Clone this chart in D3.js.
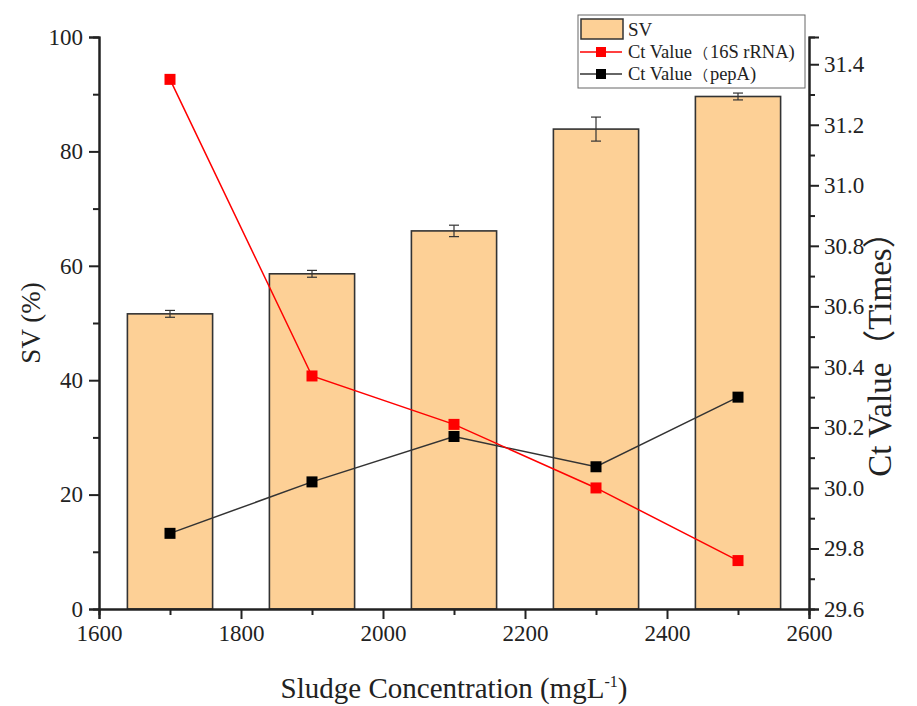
<!DOCTYPE html>
<html>
<head>
<meta charset="utf-8">
<script src="https://cdn.jsdelivr.net/npm/d3@7"></script>
<style>
  body { margin: 0; background: #fff; }
  text { font-family: "Liberation Serif", "Times New Roman", serif; fill: #222; }
  .cjk { font-family: "Noto Sans CJK SC", sans-serif; }
</style>
</head>
<body>
<svg width="917" height="706"></svg>
<script>
// data
let concentration = [1700, 1900, 2100, 2300, 2500];
let sv = [51.6, 58.6, 66.1, 83.9, 89.6];
let svErr = [0.6, 0.6, 1.0, 2.1, 0.6];
let ct16S = [31.35, 30.37, 30.21, 30.00, 29.76];
let ctPepA = [29.85, 30.02, 30.17, 30.07, 30.30];

let svgWidth = 917, svgHeight = 706;
let margin = {left: 99, right: 108, top: 37, bottom: 97};
let width = svgWidth - margin.left - margin.right,
    height = svgHeight - margin.top - margin.bottom;

let svg = d3.select('svg');
let g = svg.append('g')
    .attr('transform', 'translate(' + margin.left + ',' + margin.top + ')');

let x = d3.scaleLinear().domain([1600, 2600]).range([0, width]);
let yL = d3.scaleLinear().domain([0, 100]).range([height, 0]);
let yR = d3.scaleLinear().domain([29.6, 31.49]).range([height, 0]);

let barW = x(1760) - x(1640);
let axisColor = '#222';

// bars
g.selectAll('.bar')
    .data(concentration)
    .enter()
    .append('rect')
    .attr('x', (d) => x(d) - barW / 2)
    .attr('y', (d, i) => yL(sv[i]))
    .attr('width', barW)
    .attr('height', (d, i) => height - yL(sv[i]))
    .attr('fill', '#FDD096')
    .attr('stroke', '#333')
    .attr('stroke-width', 1.6);

// error bars
let err = g.selectAll('.err')
    .data(concentration)
    .enter()
    .append('g')
    .attr('stroke', '#333')
    .attr('stroke-width', 1.2);
err.append('line')
    .attr('x1', (d) => x(d)).attr('x2', (d) => x(d))
    .attr('y1', (d, i) => yL(sv[i] + svErr[i]))
    .attr('y2', (d, i) => yL(sv[i] - svErr[i]));
[1, -1].forEach((s) => {
    err.append('line')
        .attr('x1', (d) => x(d) - 5).attr('x2', (d) => x(d) + 5)
        .attr('y1', (d, i) => yL(sv[i] + s * svErr[i]))
        .attr('y2', (d, i) => yL(sv[i] + s * svErr[i]));
});

// lines
function drawSeries(vals, color, lineColor) {
    let line = d3.line().x((d, i) => x(concentration[i])).y((d) => yR(d));
    g.append('path')
        .datum(vals)
        .attr('d', line)
        .attr('fill', 'none')
        .attr('stroke', lineColor)
        .attr('stroke-width', 1.5);
    g.selectAll(null)
        .data(vals)
        .enter()
        .append('rect')
        .attr('x', (d, i) => x(concentration[i]) - 5.5)
        .attr('y', (d) => yR(d) - 5.5)
        .attr('width', 11)
        .attr('height', 11)
        .attr('fill', color);
}
drawSeries(ctPepA, '#000', '#333');
drawSeries(ct16S, '#ff0000', '#ff0000');

// axes
function styleAxis(sel) {
    sel.attr('font-family', 'Liberation Serif');
    sel.selectAll('path').attr('stroke', axisColor).attr('stroke-width', 2);
    sel.selectAll('line').attr('stroke', axisColor).attr('stroke-width', 2);
    sel.selectAll('text').attr('font-size', 23).attr('fill', '#222');
}

let xAxis = g.append('g')
    .attr('transform', 'translate(0,' + height + ')')
    .call(d3.axisBottom(x).tickValues(d3.range(1600, 2601, 200)).tickFormat(d3.format('d')).tickSizeOuter(0).tickSize(10).tickPadding(6));
g.append('g')
    .attr('transform', 'translate(0,' + height + ')')
    .call(d3.axisBottom(x).tickValues(d3.range(1700, 2600, 200)).tickFormat('').tickSizeOuter(0).tickSize(6))
    .call(styleAxis);
styleAxis(xAxis);

let yAxisL = g.append('g')
    .call(d3.axisLeft(yL).tickValues(d3.range(0, 101, 20)).tickSizeOuter(0).tickSize(10).tickPadding(6));
g.append('g')
    .call(d3.axisLeft(yL).tickValues(d3.range(10, 100, 20)).tickFormat('').tickSizeOuter(0).tickSize(6))
    .call(styleAxis);
styleAxis(yAxisL);

let yAxisR = g.append('g')
    .attr('transform', 'translate(' + width + ',0)')
    .call(d3.axisRight(yR).tickValues(d3.range(29.6, 31.41, 0.2)).tickFormat(d3.format('.1f')).tickSizeOuter(0).tickSize(10).tickPadding(5));
g.append('g')
    .attr('transform', 'translate(' + width + ',0)')
    .call(d3.axisRight(yR).tickValues(d3.range(29.7, 31.49, 0.2)).tickFormat('').tickSizeOuter(0).tickSize(6))
    .call(styleAxis);
styleAxis(yAxisR);

// axis titles
svg.append('text')
    .attr('transform', 'translate(40,' + (margin.top + height / 2) + ') rotate(-90)')
    .attr('text-anchor', 'middle')
    .attr('font-size', 27)
    .text('SV (%)');
let rt = svg.append('text')
    .attr('transform', 'translate(891,346) rotate(-90)')
    .attr('text-anchor', 'middle')
    .attr('font-size', 33);
rt.append('tspan').text('Ct Value');
rt.append('tspan').attr('class', 'cjk').text('（');
rt.append('tspan').text('Times');
rt.append('tspan').attr('class', 'cjk').text('）');
let xt = svg.append('text')
    .attr('x', margin.left + width / 2)
    .attr('y', 698)
    .attr('text-anchor', 'middle')
    .attr('font-size', 29)
    .text('Sludge Concentration (mgL');
xt.append('tspan').attr('dy', -11).attr('font-size', 16).text('-1');
xt.append('tspan').attr('dy', 11).text(')');

// legend
let lg = svg.append('g').attr('transform', 'translate(578,15)');
lg.append('rect')
    .attr('width', 227).attr('height', 73)
    .attr('fill', '#fff').attr('stroke', '#666').attr('stroke-width', 1);
lg.append('rect')
    .attr('x', 3).attr('y', 4).attr('width', 42).attr('height', 20)
    .attr('fill', '#FDD096').attr('stroke', '#333').attr('stroke-width', 1.5);
let legendItems = [
    {label: '16S rRNA)', color: '#ff0000', line: '#ff0000', y: 37},
    {label: 'pepA)', color: '#000', line: '#333', y: 59}
];
lg.append('text').attr('x', 50).attr('y', 21).attr('font-size', 19).text('SV');
legendItems.forEach((d) => {
    lg.append('line').attr('x1', 2).attr('x2', 44).attr('y1', d.y).attr('y2', d.y)
        .attr('stroke', d.line).attr('stroke-width', 1.5);
    lg.append('rect').attr('x', 18).attr('y', d.y - 5).attr('width', 10).attr('height', 10).attr('fill', d.color);
    let t = lg.append('text').attr('x', 50).attr('y', d.y + 6).attr('font-size', 18.5);
    t.append('tspan').text('Ct Value');
    t.append('tspan').attr('class', 'cjk').attr('font-size', 14).attr('dx', 2).text('（');
    t.append('tspan').attr('dx', 2).text(d.label);
});
</script>
</body>
</html>
